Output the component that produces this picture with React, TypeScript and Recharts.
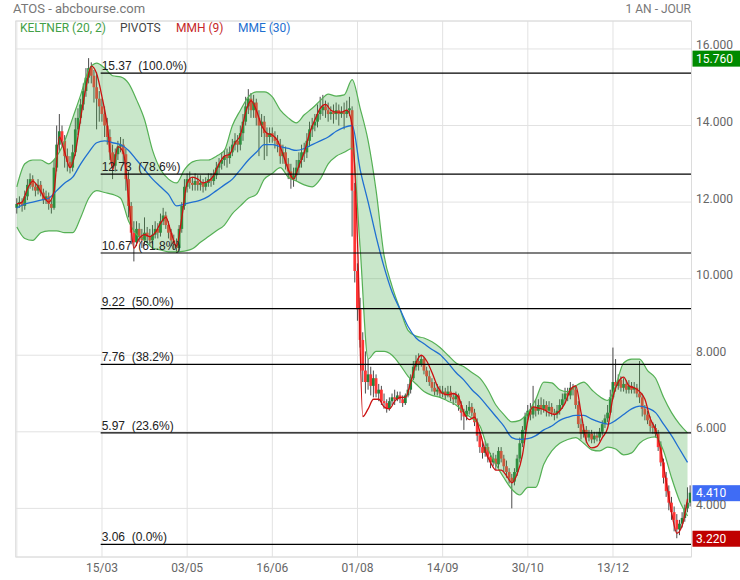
import React from 'react';
import { ComposedChart, Bar, Line, Area, XAxis, YAxis, CartesianGrid, ReferenceLine } from 'recharts';

// Daily candles (one year)
const opens = [
11.85,11.95,12.0,11.9,12.15,12.45,12.6,12.4,12.3,12.45,
12.25,12.05,12.15,11.95,11.85,12.9,13.5,13.85,13.6,13.2,
13.05,12.9,13.3,13.9,14.2,14.55,14.9,15.25,15.5,15.3,
15.0,14.7,14.5,14.3,14.0,13.7,13.3,12.95,13.25,13.45,
13.5,13.25,12.6,11.9,11.2,10.95,11.3,11.1,11.0,11.2,
11.1,11.0,11.15,11.3,11.2,11.5,11.65,11.4,11.2,11.0,
10.9,10.8,11.3,11.9,12.4,12.6,12.5,12.45,12.55,12.45,
12.5,12.4,12.5,12.6,12.55,12.7,12.9,13.0,13.1,13.2,
13.15,13.3,13.5,13.6,13.5,13.8,14.1,14.5,14.7,14.4,
14.6,14.2,14.0,14.1,13.8,13.7,13.8,13.7,13.6,13.5,
13.2,13.3,13.0,12.8,12.6,12.7,12.9,13.1,13.3,13.3,
13.6,13.9,14.0,14.1,14.3,14.4,14.5,14.4,14.3,14.35,
14.3,14.4,14.3,14.35,14.3,14.4,14.4,12.3,10.2,9.2,
8.4,7.6,7.3,7.5,7.2,7.4,7.0,7.1,6.8,6.75,
6.6,6.8,6.9,6.85,6.95,6.85,6.75,6.95,7.1,7.4,
7.7,7.85,7.75,7.9,7.6,7.45,7.3,7.15,7.05,7.1,
7.0,7.05,6.95,7.05,6.9,6.85,6.95,6.7,6.5,6.4,
6.55,6.65,6.5,6.25,5.9,5.6,5.45,5.6,5.35,5.2,
5.3,5.15,5.5,5.3,5.1,4.95,4.8,4.7,4.95,5.3,
5.7,6.05,6.4,6.55,6.45,6.65,6.55,6.7,6.6,6.7,
6.55,6.65,6.5,6.45,6.55,6.7,6.85,7.0,6.95,7.15,
7.1,6.7,6.2,5.95,6.05,5.85,5.95,5.8,5.9,5.85,
6.0,6.2,6.35,6.5,6.9,7.3,7.2,7.35,7.15,7.25,
7.1,7.2,7.1,7.15,7.0,6.9,6.6,6.45,6.3,6.15,
6.1,5.95,5.6,5.2,4.8,4.45,4.15,3.9,3.7,3.45,
3.6,3.75,4.0,4.15
];
const highs = [
12.1,12.15,12.1,12.3,12.6,12.75,12.7,12.5,12.6,12.55,
12.35,12.3,12.25,12.05,13.1,14.0,14.3,14.0,13.75,13.4,
13.2,13.5,14.2,14.45,14.7,15.1,15.5,15.76,15.65,15.45,
15.4,14.9,14.7,14.5,14.2,13.9,13.5,13.4,13.6,13.7,
13.65,13.4,12.8,12.0,11.5,11.5,11.45,11.3,11.6,11.35,
11.3,11.4,11.5,11.45,11.7,11.85,11.75,11.5,11.3,11.15,
11.05,11.4,12.0,12.6,12.75,12.8,12.65,12.75,12.7,12.7,
12.6,12.65,12.75,12.75,12.85,13.05,13.15,13.3,13.35,13.4,
13.45,13.65,13.8,13.75,14.0,14.3,14.75,14.95,14.85,14.8,
14.7,14.4,14.3,14.25,13.95,13.95,13.95,13.85,13.75,13.65,
13.5,13.45,13.15,13.0,12.9,13.1,13.3,13.5,13.55,13.8,
14.1,14.2,14.3,14.55,14.75,14.8,14.65,14.6,14.5,14.55,
14.6,14.55,14.5,14.6,14.65,14.75,14.5,12.5,10.4,9.5,
8.6,8.1,7.9,7.7,7.6,7.5,7.25,7.2,7.0,6.85,
6.9,7.0,7.1,7.05,7.05,6.95,7.0,7.25,7.5,7.85,
8.0,8.05,8.0,7.95,7.7,7.6,7.4,7.3,7.25,7.2,
7.2,7.15,7.2,7.2,7.0,7.05,7.0,6.8,6.6,6.7,
6.8,6.75,6.6,6.35,6.0,5.75,5.75,5.7,5.45,5.45,
5.4,5.6,5.6,5.4,5.25,5.05,4.9,5.05,5.4,5.85,
6.15,6.5,6.7,6.75,7.2,6.85,6.85,6.9,6.85,6.8,
6.8,6.75,6.6,6.7,6.85,7.0,7.15,7.15,7.3,7.25,
7.2,6.8,6.35,6.2,6.15,6.05,6.05,6.0,6.0,6.1,
6.3,6.45,6.7,7.1,8.2,7.9,7.5,7.45,7.4,7.35,
7.35,7.3,7.3,7.25,7.85,7.0,6.7,6.55,6.4,6.25,
6.2,6.05,5.75,5.3,4.95,4.6,4.3,4.05,3.85,3.7,
3.9,4.1,4.55,4.6
];
const lows = [
11.7,11.85,11.75,11.8,12.05,12.35,12.3,12.15,12.2,12.15,
11.95,11.95,11.8,11.7,11.8,12.8,13.3,13.45,12.9,12.8,
12.75,12.8,13.2,13.75,14.05,14.4,14.75,15.1,15.1,14.6,
13.9,14.1,14.1,13.7,13.5,13.1,12.6,12.8,13.1,13.3,
13.0,12.3,11.6,10.9,10.45,10.85,10.95,10.8,10.9,10.95,
10.85,10.9,11.05,11.05,11.1,11.4,11.3,11.05,10.85,10.75,
10.67,10.7,11.2,11.8,12.25,12.35,12.3,12.3,12.3,12.3,
12.25,12.3,12.4,12.4,12.45,12.6,12.75,12.85,12.95,12.9,
13.0,13.2,13.35,13.3,13.35,13.6,14.0,14.3,14.2,14.2,
14.0,13.2,13.7,13.1,13.2,13.55,13.55,13.4,13.3,13.0,
13.0,12.85,12.6,12.35,12.4,12.55,12.75,12.9,13.05,13.15,
13.45,13.7,13.85,13.95,14.15,14.25,14.2,14.1,14.15,14.05,
14.15,14.0,14.2,13.9,14.2,14.25,11.1,9.9,8.9,8.2,
7.3,7.0,7.1,6.95,6.9,6.9,6.8,6.7,6.6,6.5,
6.55,6.7,6.7,6.8,6.75,6.65,6.7,6.9,7.0,7.35,
7.6,7.6,7.7,7.5,7.3,7.2,7.05,6.95,6.95,6.9,
6.9,6.85,6.9,6.8,6.7,6.75,6.55,6.3,6.05,6.3,
6.45,6.4,6.15,5.75,5.45,5.3,5.35,5.2,5.05,5.1,
5.0,5.05,5.2,4.95,4.8,4.65,4.0,4.6,4.85,5.2,
5.6,5.95,6.3,6.3,6.35,6.4,6.45,6.45,6.5,6.4,
6.4,6.4,6.3,6.35,6.45,6.6,6.75,6.8,6.85,6.95,
6.6,6.1,5.8,5.85,5.7,5.75,5.7,5.7,5.75,5.75,
5.9,6.1,6.25,6.45,6.85,7.05,7.1,7.05,7.05,7.0,
7.0,7.0,7.0,6.9,6.75,6.4,6.3,6.2,6.0,5.95,
5.85,5.5,5.1,4.65,4.3,3.95,3.7,3.4,3.22,3.3,
3.5,3.65,3.9,4.05
];
const closes = [
11.95,12.0,11.9,12.15,12.45,12.6,12.4,12.3,12.45,12.25,
12.05,12.15,11.95,11.85,12.9,13.5,13.85,13.6,13.2,13.05,
12.9,13.3,13.9,14.2,14.55,14.9,15.25,15.5,15.3,15.0,
14.7,14.5,14.3,14.0,13.7,13.3,12.95,13.25,13.45,13.5,
13.25,12.6,11.9,11.2,10.95,11.3,11.1,11.0,11.2,11.1,
11.0,11.15,11.3,11.2,11.5,11.65,11.4,11.2,11.0,10.9,
10.8,11.3,11.9,12.4,12.6,12.5,12.45,12.55,12.45,12.5,
12.4,12.5,12.6,12.55,12.7,12.9,13.0,13.1,13.2,13.15,
13.3,13.5,13.6,13.5,13.8,14.1,14.5,14.7,14.4,14.6,
14.2,14.0,14.1,13.8,13.7,13.8,13.7,13.6,13.5,13.2,
13.3,13.0,12.8,12.6,12.7,12.9,13.1,13.3,13.3,13.6,
13.9,14.0,14.1,14.3,14.4,14.5,14.4,14.3,14.35,14.3,
14.4,14.3,14.35,14.3,14.4,14.45,12.3,10.2,9.2,8.4,
7.6,7.3,7.5,7.2,7.4,7.0,7.1,6.8,6.75,6.6,
6.8,6.9,6.85,6.95,6.85,6.75,6.95,7.1,7.4,7.7,
7.85,7.75,7.9,7.6,7.45,7.3,7.15,7.05,7.1,7.0,
7.05,6.95,7.05,6.9,6.85,6.95,6.7,6.5,6.4,6.55,
6.65,6.5,6.25,5.9,5.6,5.45,5.6,5.35,5.2,5.3,
5.15,5.5,5.3,5.1,4.95,4.8,4.7,4.95,5.3,5.7,
6.05,6.4,6.55,6.45,6.65,6.55,6.7,6.6,6.7,6.55,
6.65,6.5,6.45,6.55,6.7,6.85,7.0,6.95,7.15,7.1,
6.7,6.2,5.95,6.05,5.85,5.95,5.8,5.9,5.85,6.0,
6.2,6.35,6.5,6.9,7.3,7.2,7.35,7.15,7.25,7.1,
7.2,7.1,7.15,7.0,6.9,6.6,6.45,6.3,6.15,6.1,
5.95,5.6,5.2,4.8,4.45,4.15,3.9,3.7,3.45,3.6,
3.75,4.0,4.15,4.41
];

// Keltner (20,2) and MME(30): one reading every 3rd session
const keltnerUpper = [
12.4,13.0,13.1,13.1,13.0,13.2,13.6,14.2,14.8,15.45,
15.63,15.5,15.3,15.27,15.1,14.67,14.15,13.35,12.85,12.6,
12.5,12.85,13.05,13.1,13.1,13.2,13.35,14.0,14.4,14.75,
14.88,14.88,14.75,14.4,14.2,14.07,14.28,14.45,14.65,14.82,
14.77,14.8,15.2,14.45,13.6,12.3,10.6,9.8,9.2,8.65,
8.5,8.45,8.35,8.2,8.0,7.8,7.7,7.55,7.4,7.1,
6.7,6.45,6.26,6.3,6.5,6.85,7.3,7.28,7.1,7.05,
7.2,7.3,7.1,6.92,6.82,7.2,7.8,7.9,7.9,7.6,
7.4,6.9,6.5,6.2,5.97
];
const keltnerLower = [
11.35,11.05,11.0,11.2,11.25,11.25,11.2,11.2,11.6,12.1,
12.3,12.25,12.2,12.1,11.5,11.15,11.0,10.8,10.75,10.7,
10.7,10.72,10.78,10.95,11.1,11.25,11.4,11.7,11.9,12.1,
12.2,12.6,12.75,12.9,12.65,12.55,12.45,12.4,12.6,13.0,
13.2,13.3,13.4,10.8,7.9,8.1,8.1,8.0,7.75,7.45,
7.25,7.05,6.95,6.9,6.8,6.7,6.5,6.35,6.15,5.55,
5.15,4.8,4.5,4.35,4.55,4.55,5.15,5.5,5.7,5.8,
5.85,5.7,5.53,5.5,5.6,5.55,5.4,5.45,5.7,5.83,
5.87,5.5,4.8,4.2,3.8
];
const mme30 = [
11.85,11.95,12.0,12.05,12.1,12.3,12.5,12.65,13.0,13.3,
13.55,13.6,13.55,13.5,13.35,13.1,12.85,12.6,12.4,12.2,
11.9,11.95,12.0,12.05,12.15,12.3,12.45,12.6,12.85,13.1,
13.3,13.5,13.5,13.45,13.4,13.35,13.4,13.5,13.6,13.7,
13.85,13.95,14.0,12.85,12.0,11.1,10.3,9.65,9.2,8.75,
8.45,8.3,8.15,8.02,7.8,7.55,7.35,7.1,6.9,6.65,
6.4,6.15,5.85,5.8,5.82,5.9,6.05,6.15,6.3,6.38,
6.43,6.43,6.33,6.25,6.2,6.3,6.45,6.6,6.67,6.62,
6.5,6.2,5.9,5.55,5.2
];
// MMH(9): one reading every 2nd session
const mmh9 = [
11.95,12.0,12.35,12.55,12.4,12.15,12.0,12.3,13.7,13.3,
12.9,13.3,14.2,15.0,15.55,15.35,14.75,14.0,12.85,13.45,
13.3,12.1,10.8,11.05,11.15,11.1,11.2,11.45,11.6,11.2,
10.85,11.6,12.5,12.65,12.6,12.5,12.55,12.7,13.0,13.2,
13.25,13.55,13.75,14.35,14.65,14.4,14.0,13.8,13.75,13.6,
13.25,12.85,12.6,12.95,13.3,13.8,14.15,14.45,14.55,14.4,
14.35,14.35,14.4,14.0,11.0,6.4,6.6,6.85,6.85,6.65,
6.6,6.8,6.9,6.9,7.3,7.8,8.0,7.85,7.55,7.2,
7.0,6.97,7.0,6.9,6.5,6.32,6.38,6.0,5.5,5.2,
5.0,5.0,4.85,4.67,4.9,5.4,6.3,6.65,6.62,6.58,
6.5,6.45,6.55,6.75,7.1,7.2,6.5,5.75,5.58,5.62,
5.85,6.1,6.9,7.3,7.43,7.2,7.15,7.05,6.85,6.35,
6.05,5.5,4.7,3.9,3.35,3.55,4.25
];

const xTickIdx = [0, 32, 64, 96, 128, 160, 192, 224];
const xTickLabels = ['', '15/03', '03/05', '16/06', '01/08', '14/09', '30/10', '13/12'];
const yTicks = [4, 6, 8, 10, 12, 14, 16];
const yDomain = [2.73, 16.73];

const fibValues = [15.37, 12.73, 10.67, 9.22, 7.76, 5.97, 3.06];
const fibPcts = ['100.0%', '78.6%', '61.8%', '50.0%', '38.2%', '23.6%', '0.0%'];

const badgeValues = [15.76, 4.41, 3.22];
const badgeColors = ['#008a00', '#3f6cf5', '#c00000'];

const data = closes.map((c, i) => ({
  i,
  o: opens[i],
  h: highs[i],
  l: lows[i],
  c,
  range: [lows[i], highs[i]],
  band: i % 3 === 0 && i / 3 < keltnerUpper.length ? [keltnerLower[i / 3], keltnerUpper[i / 3]] : null,
  mme: i % 3 === 0 && i / 3 < mme30.length ? mme30[i / 3] : null,
  mmh: i % 2 === 0 && i / 2 < mmh9.length ? mmh9[i / 2] : null,
}));

const Candle = (props: any) => {
  const { x, y, width, height, payload } = props;
  if (x == null || y == null) return null;
  const top = Math.min(y, y + height);
  const hh = Math.abs(height);
  const { o, h, l, c } = payload;
  const ppu = h - l > 0 ? hh / (h - l) : 0;
  const yO = top + (h - o) * ppu;
  const yC = top + (h - c) * ppu;
  const cx = x + width / 2;
  const up = c >= o;
  const bTop = Math.min(yO, yC);
  const bH = Math.max(1.2, Math.abs(yO - yC));
  return (
    <g>
      <line x1={cx} x2={cx} y1={top} y2={top + hh} stroke="#4a4a4a" strokeWidth={1} />
      <rect x={cx - 1.4} y={bTop} width={2.8} height={bH} fill={up ? '#23823a' : '#ff3535'} />
    </g>
  );
};

const YTick = (p: any) => (
  <text x={696} y={p.y - 3.5} dominantBaseline="central" fontSize={12} fill="#666" fontFamily="Roboto">
    {Number(p.payload.value).toFixed(3)}
  </text>
);

const XTick = (p: any) => {
  const k = xTickIdx.indexOf(p.payload.value);
  return (
    <text x={p.x} y={568} textAnchor="middle" dominantBaseline="central" fontSize={12} fill="#666" fontFamily="Roboto">
      {k >= 0 ? xTickLabels[k] : ''}
    </text>
  );
};

export default function App() {
  return (
    <div style={{ position: 'absolute', left: 0, top: 0, width: 740, height: 580, background: '#fff', fontFamily: 'Roboto' }}>
      <ComposedChart width={740} height={580} data={data} margin={{ top: 21, right: 0, bottom: 0, left: 15.5 }}>
        <CartesianGrid stroke="#e2e2e2" />
        <XAxis
          dataKey="i"
          type="category"
          ticks={xTickIdx}
          tick={<XTick />}
          tickLine={false}
          tickSize={0}
          height={23}
          axisLine={{ stroke: '#dcdcdc' }}
          interval={0}
        />
        <YAxis
          orientation="right"
          type="number"
          domain={yDomain}
          ticks={yTicks}
          allowDataOverflow
          width={48.5}
          tickLine={false}
          tickSize={0}
          axisLine={{ stroke: '#dcdcdc' }}
          tick={<YTick />}
        />
        <ReferenceLine y={yDomain[1]} stroke="#dcdcdc" ifOverflow="visible" />
        <Bar dataKey="range" shape={<Candle />} isAnimationActive={false} />
        <Area
          dataKey="band"
          type="monotone"
          connectNulls
          fill="#4caf50"
          fillOpacity={0.3}
          stroke="#55b055"
          strokeWidth={1.2}
          isAnimationActive={false}
          dot={false}
          activeDot={false}
          {...({ zIndex: 350 } as any)}
        />
        <Line dataKey="mme" type="monotone" connectNulls stroke="#1f6fd1" strokeWidth={1.3} dot={false} activeDot={false} isAnimationActive={false} />
        <Line dataKey="mmh" type="monotone" connectNulls stroke="#cc1010" strokeWidth={1.3} dot={false} activeDot={false} isAnimationActive={false} />
        {fibValues.map((v, k) => (
          <ReferenceLine
            key={'fib' + k}
            segment={[{ x: 31, y: v }, { x: 253, y: v }]}
            position="end"
            stroke="#000"
            strokeWidth={1.2}
            ifOverflow="visible"
            {...({ zIndex: 450 } as any)}
            label={(lp: any) => (
              <text
                x={lp.viewBox.x + 1}
                y={lp.viewBox.y - 3}
                fontSize={12}
                fill="#222"
                fontFamily="Liberation Sans"
                style={{ whiteSpace: 'pre' }}
              >
                {v.toFixed(2) + '  (' + fibPcts[k] + ')'}
              </text>
            )}
          />
        ))}
        {badgeValues.map((v, k) => (
          <ReferenceLine
            key={'badge' + k}
            y={v}
            stroke="none"
            ifOverflow="visible"
            label={(lp: any) => (
              <g>
                <rect x={692.5} y={lp.viewBox.y - 7.5} width={47.5} height={16} fill={badgeColors[k]} />
                <text x={696} y={lp.viewBox.y + 0.5} dominantBaseline="central" fontSize={12} fill="#fff" fontFamily="Roboto">
                  {v.toFixed(3)}
                </text>
              </g>
            )}
          />
        ))}
      </ComposedChart>
      <div style={{ position: 'absolute', left: 13, top: 1, fontSize: 13, color: '#777', lineHeight: '16px' }}>ATOS - abcbourse.com</div>
      <div style={{ position: 'absolute', right: 49, top: 1, fontSize: 12, color: '#777', lineHeight: '16px' }}>1 AN - JOUR</div>
      <div style={{ position: 'absolute', left: 20, top: 21, fontSize: 12, lineHeight: '15px', whiteSpace: 'pre' }}>
        <span style={{ position: 'absolute', left: 0, color: '#43a047' }}>KELTNER (20, 2)</span>
        <span style={{ position: 'absolute', left: 100, color: '#444' }}>PIVOTS</span>
        <span style={{ position: 'absolute', left: 156, color: '#c62828' }}>MMH (9)</span>
        <span style={{ position: 'absolute', left: 218, color: '#1e6fd0' }}>MME (30)</span>
      </div>
    </div>
  );
}
